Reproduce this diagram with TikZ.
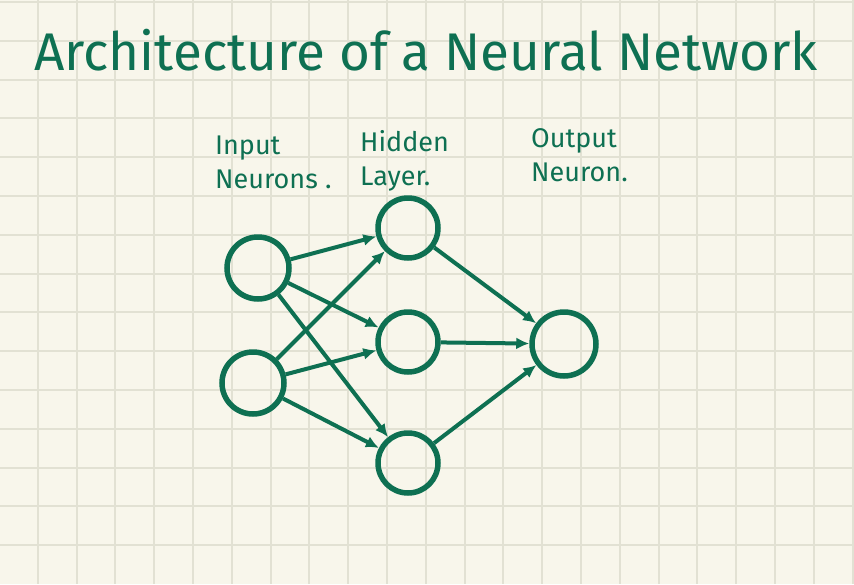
\documentclass[tikz,border=0pt]{standalone}
\usepackage{fontspec}
\setmainfont{Fira Sans}
\usetikzlibrary{arrows.meta}
\definecolor{ink}{RGB}{14,112,82}
\definecolor{paper}{RGB}{248,246,235}
\definecolor{gridline}{RGB}{226,225,211}
\begin{document}
\begin{tikzpicture}[
    x=1pt, y=-1pt,
    neuron/.style={
      circle,
      draw=ink,
      line width=5.5pt,
      minimum size=60pt,
      inner sep=0pt
    },
    link/.style={
      draw=ink,
      line width=4pt,
      -{Latex[length=13pt,width=12pt]}
    },
    label/.style={
      text=ink,
      font=\fontsize{27}{34}\selectfont,
      align=left,
      anchor=north west,
      inner sep=0pt
    }
  ]

    % Paper and grid
    \useasboundingbox (0,0) rectangle (854,584);
    \fill[paper] (0,0) rectangle (854,584);
    \foreach \i in {0,...,21} {
      \draw[gridline, line width=2pt] (37.7+38.8*\i,0) -- (37.7+38.8*\i,584);
    }
    \foreach \j in {0,...,14} {
      \draw[gridline, line width=2pt] (0,2+38.8*\j) -- (854,2+38.8*\j);
    }

    % Title
    \node[text=ink, font=\fontsize{53}{60}\selectfont, anchor=base west, inner sep=0pt]
      (title) at (34,70) {Architecture of a Neural Network};

    % Layer labels
    \node[label] (lblin) at (215,136) {Input\\Neurons .};
    \node[label] (lblhid) at (360,130) {Hidden\\Layer.};
    \node[label] (lblout) at (531,128) {Output\\Neuron.};

    % Neurons
    \node[neuron, minimum size=62pt] (in1) at (258,268) {};
    \node[neuron, minimum size=62pt] (in2) at (253,383) {};
    \node[neuron] (hid1) at (408,228) {};
    \node[neuron] (hid2) at (408,342) {};
    \node[neuron] (hid3) at (408,463) {};
    \node[neuron, minimum size=64pt] (out) at (564,344) {};

    % Connections
    \foreach \a in {in1,in2} {
      \foreach \b in {hid1,hid2,hid3} {
        \draw[link] (\a) -- (\b);
      }
    }
    \foreach \b in {hid1,hid2,hid3} {
      \draw[link] (\b) -- (out);
    }

  \end{tikzpicture}
\end{document}
